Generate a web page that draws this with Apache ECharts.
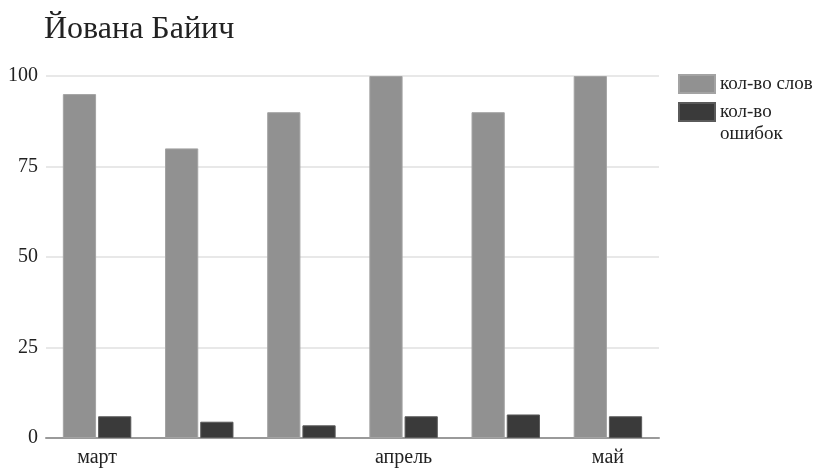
<!DOCTYPE html>
<html>
<head>
<meta charset="utf-8">
<script src="https://cdn.jsdelivr.net/npm/echarts@6/dist/echarts.min.js"></script>
<style>
  html, body { margin: 0; padding: 0; background: #fff; }
  #chart { width: 820px; height: 470px; }
</style>
</head>
<body>
<div id="chart"></div>
<script>
// Monthly word count vs. mistakes for one student
const chartTitle = 'Йована Байич';
const categories = ['март', '', '', 'апрель', '', 'май'];
const seriesNames = ['кол-во слов', 'кол-во ошибок'];
const wordCounts = [95, 80, 90, 100, 90, 100];
const errorCounts = [6, 4.5, 3.5, 6, 6.5, 6];
const yTicks = [0, 25, 50, 75, 100];

const serif = '"Liberation Serif", "DejaVu Serif", serif';
const textColor = '#222';

// Long legend names wrap after the first word; a blank leading line keeps
// the first text line level with the swatch.
function legendLabel(name) {
  const parts = name.split(' ');
  if (name.length <= 11) return name;
  return '\u00a0\n' + parts[0] + '\n' + parts.slice(1).join(' ');
}

const chart = echarts.init(document.getElementById('chart'), null, { renderer: 'canvas' });

chart.setOption({
  animation: false,
  backgroundColor: '#ffffff',
  title: {
    text: chartTitle,
    left: 39,
    top: 9,
    textStyle: { fontFamily: serif, fontSize: 32, fontWeight: 'normal', color: textColor }
  },
  legend: {
    orient: 'vertical',
    left: 673,
    top: 68,
    itemWidth: 36,
    itemHeight: 18,
    itemGap: -16,
    icon: 'rect',
    formatter: legendLabel,
    textStyle: { fontFamily: serif, fontSize: 19, color: textColor, lineHeight: 22 },
    data: seriesNames
  },
  grid: { left: 46, right: 161, top: 76, bottom: 32, containLabel: false },
  xAxis: {
    type: 'category',
    data: categories,
    axisTick: { show: false },
    axisLine: { lineStyle: { color: '#9a9a9a', width: 2 } },
    axisLabel: { interval: 0, margin: 10, fontFamily: serif, fontSize: 20, color: textColor }
  },
  yAxis: {
    type: 'value',
    min: yTicks[0],
    max: yTicks[yTicks.length - 1],
    interval: yTicks[1] - yTicks[0],
    axisLine: { show: false },
    axisTick: { show: false },
    axisLabel: { margin: 8, fontFamily: serif, fontSize: 20, color: textColor },
    splitLine: { lineStyle: { color: '#e0e0e0', width: 1.5 } }
  },
  series: [
    {
      name: seriesNames[0],
      type: 'bar',
      data: wordCounts,
      barGap: '6%',
      barCategoryGap: '33%',
      itemStyle: { color: '#919191', borderColor: '#a3a3a3', borderWidth: 1 }
    },
    {
      name: seriesNames[1],
      type: 'bar',
      data: errorCounts,
      itemStyle: { color: '#3a3a3a', borderColor: '#5a5a5a', borderWidth: 1 }
    }
  ]
});
</script>
</body>
</html>
